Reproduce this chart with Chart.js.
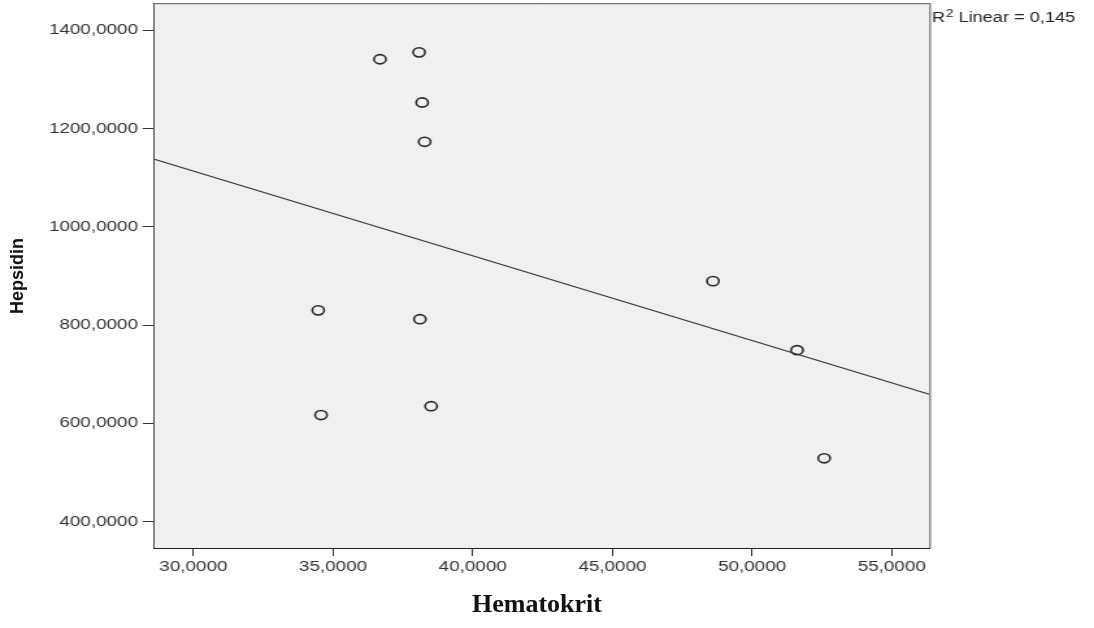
<!DOCTYPE html>
<html>
<head>
<meta charset="utf-8">
<script src="https://cdn.jsdelivr.net/npm/chart.js@4"></script>
<style>
  body { margin: 0; background: #fff; }
  #page { position: relative; width: 1094px; height: 628px; overflow: hidden; background: #fff; }
  /* the source graphic is stretched sideways, so the canvas is too */
  #wrap { position: absolute; left: 0; top: -3px; width: 842px; height: 631px; transform: scaleX(1.29929); transform-origin: 0 0; }
  #xTitle { position: absolute; left: 437px; top: 591px; width: 200px; text-align: center;
    font: bold 26px "Liberation Serif", "Times New Roman", serif; line-height: 26px; color: #111; }
  #yTitle { position: absolute; left: -43px; top: 267px; width: 120px; height: 18px; text-align: center;
    font: bold 18px "Liberation Sans", Arial, sans-serif; line-height: 18px; color: #111; transform: rotate(-90deg); }
</style>
</head>
<body>
<div id="page">
  <div id="wrap"><canvas id="scatterChart" width="842" height="631" style="width:842px;height:631px"></canvas></div>
  <div id="xTitle">Hematokrit</div>
  <div id="yTitle">Hepsidin</div>
</div>
<script>
const hematokrit = [36.68, 38.08, 38.19, 38.28, 48.60, 34.47, 38.11, 51.61, 34.57, 38.51, 52.58];
const hepsidin = [1341, 1355, 1253, 1173, 889.5, 830, 812, 749, 617, 635, 529];

// fitted line end points, read at the plot edges
const fitX = [28.604, 56.37];
const fitY = [1137.6, 658.9];

const xTicks = [30, 35, 40, 45, 50, 55];
const yTicks = [400, 600, 800, 1000, 1200, 1400];
const X_MIN = 28.604;
const X_MAX = 56.37;
const Y_MIN = 346.5;
const Y_MAX = 1455;

const fitLabel = ["R", "2", " Linear = 0,145"];

const tickFont = { family: "'Liberation Sans', Arial, sans-serif", size: 14.5 };
const fmt = (v) => v.toFixed(4).replace(".", ",");

const frame = {
  id: "frame",
  beforeDatasetsDraw(chart) {
    const { ctx, chartArea: a } = chart;
    ctx.save();
    ctx.fillStyle = "#f0f0f0";
    ctx.fillRect(a.left, a.top, a.right - a.left, a.bottom - a.top);
    ctx.restore();
  },
  afterDraw(chart) {
    const { ctx, chartArea: a } = chart;
    ctx.save();
    ctx.strokeStyle = "#555";
    ctx.lineWidth = 1;
    ctx.beginPath();
    ctx.moveTo(a.left, a.top + 0.5);
    ctx.lineTo(a.right, a.top + 0.5);
    ctx.stroke();
    ctx.strokeStyle = "#8a8a8a";
    ctx.lineWidth = 1.5;
    ctx.beginPath();
    ctx.moveTo(a.right, a.top);
    ctx.lineTo(a.right, a.bottom);
    ctx.stroke();

    // R² label beside the plot
    const base = a.top + 19;
    ctx.fillStyle = "#222";
    ctx.textBaseline = "alphabetic";
    let x = a.right + 1.5;
    ctx.font = "14px 'Liberation Sans', Arial, sans-serif";
    ctx.fillText(fitLabel[0], x, base);
    x += ctx.measureText(fitLabel[0]).width + 0.5;
    ctx.font = "10.5px 'Liberation Sans', Arial, sans-serif";
    ctx.fillText(fitLabel[1], x, base - 5.5);
    x += ctx.measureText(fitLabel[1]).width;
    ctx.font = "14px 'Liberation Sans', Arial, sans-serif";
    ctx.fillText(fitLabel[2], x, base);
    ctx.restore();
  },
};

const noEdgePadding = (axis) => {
  axis.paddingTop = 0;
  axis.paddingBottom = 0;
  axis.paddingLeft = 0;
  axis.paddingRight = 0;
};

new Chart(document.getElementById("scatterChart"), {
  type: "scatter",
  data: {
    datasets: [
      {
        label: "Hepsidin",
        data: hematokrit.map((x, i) => ({ x, y: hepsidin[i] })),
        pointRadius: 4.6,
        pointHoverRadius: 4.6,
        pointBorderWidth: 1.6,
        borderColor: "#2a2a2a",
        backgroundColor: "rgba(0,0,0,0)",
      },
      {
        type: "line",
        label: "Linear",
        data: fitX.map((x, i) => ({ x, y: fitY[i] })),
        borderColor: "#333",
        borderWidth: 1.2,
        pointRadius: 0,
        fill: false,
      },
    ],
  },
  options: {
    responsive: false,
    animation: false,
    devicePixelRatio: 1,
    layout: { padding: { top: 0, right: 126.2, left: 0, bottom: 0 } },
    plugins: { legend: { display: false }, tooltip: { enabled: false } },
    scales: {
      x: {
        type: "linear",
        min: X_MIN,
        max: X_MAX,
        afterBuildTicks: (axis) => { axis.ticks = xTicks.map((v) => ({ value: v })); },
        afterFit: (axis) => { axis.height = 80; noEdgePadding(axis); },
        ticks: { callback: fmt, font: tickFont, color: "#333", padding: 2, maxRotation: 0, autoSkip: false },
        grid: { drawOnChartArea: false, drawTicks: true, tickLength: 8, color: "#333" },
        border: { display: true, color: "#222", width: 1 },
      },
      y: {
        type: "linear",
        min: Y_MIN,
        max: Y_MAX,
        afterBuildTicks: (axis) => { axis.ticks = yTicks.map((v) => ({ value: v })); },
        afterFit: (axis) => { axis.width = 118.8; noEdgePadding(axis); },
        ticks: { callback: fmt, font: tickFont, color: "#333", padding: 3.6, autoSkip: false },
        grid: { drawOnChartArea: false, drawTicks: true, tickLength: 9, color: "#333" },
        border: { display: true, color: "#222", width: 1 },
      },
    },
  },
  plugins: [frame],
});
</script>
</body>
</html>
